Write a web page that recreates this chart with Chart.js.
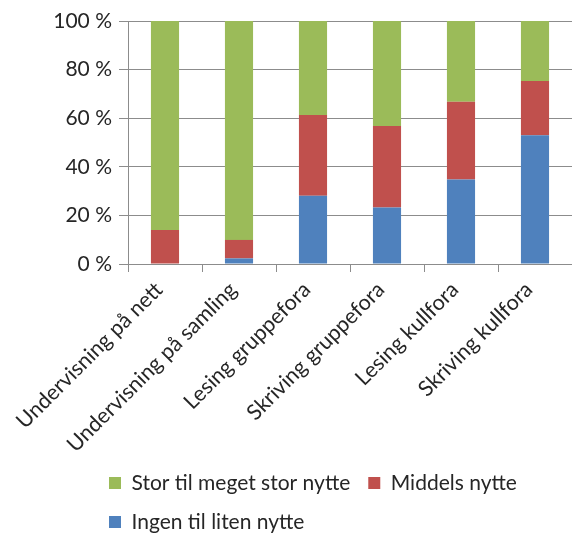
<!DOCTYPE html>
<html>
<head>
<meta charset="utf-8">
<script src="https://cdn.jsdelivr.net/npm/chart.js@4/dist/chart.umd.min.js"></script>
<style>
  html, body { margin: 0; padding: 0; background: #ffffff; }
  #wrap { width: 572px; height: 533px; }
</style>
</head>
<body>
<div id="wrap"><canvas id="c" width="572" height="533"></canvas></div>
<script>
// Kategorier (tilbud i studiet)
const categories = [
  'Undervisning på nett',
  'Undervisning på samling',
  'Lesing gruppefora',
  'Skriving gruppefora',
  'Lesing kullfora',
  'Skriving kullfora'
];

// Andel svar (%) per kategori
const ingenTilLiten = [0, 2.3, 28.1, 23.3, 34.8, 53.0];
const middels = [14.0, 7.6, 33.2, 33.5, 32.0, 22.3];
const storTilMegetStor = [86.0, 90.1, 38.7, 43.2, 33.2, 24.7];

const yTicks = [0, 20, 40, 60, 80, 100];

const axisGrey = '#8c8c8c';
const textColor = '#262626';
const fontFamily = 'Lato, "Open Sans", sans-serif';

// Legenden plasseres under aksetekstene, venstrejustert
const legendShift = {
  id: 'legendShift',
  afterLayout(chart) {
    const lg = chart.legend;
    if (!lg) return;
    const dx = 91 - lg.left;
    lg.left += dx;
    lg.right += dx;
    const dy = 454.5 - lg.top;
    lg.top += dy;
    lg.bottom += dy;
  }
};

new Chart(document.getElementById('c'), {
  type: 'bar',
  data: {
    labels: categories,
    datasets: [
      { label: 'Ingen til liten nytte', data: ingenTilLiten, backgroundColor: '#4F81BD', borderWidth: 0 },
      { label: 'Middels nytte', data: middels, backgroundColor: '#C0504D', borderWidth: 0 },
      { label: 'Stor til meget stor nytte', data: storTilMegetStor, backgroundColor: '#9BBB59', borderWidth: 0 }
    ]
  },
  options: {
    responsive: false,
    animation: false,
    devicePixelRatio: 1,
    // aksetekstene får gå inn under legenden, derfor negativ bunnmarg
    layout: { padding: { top: 21, left: 0, right: 0, bottom: -30 } },
    datasets: { bar: { categoryPercentage: 1.0, barPercentage: 0.38 } },
    plugins: {
      tooltip: { enabled: false },
      legend: {
        position: 'bottom',
        align: 'start',
        reverse: true,
        labels: {
          boxWidth: 12,
          boxHeight: 12,
          padding: 18,
          color: textColor,
          font: { family: fontFamily, size: 21 }
        }
      }
    },
    scales: {
      x: {
        stacked: true,
        afterFit(scale) { scale.height = 211; },
        grid: { drawOnChartArea: false, drawTicks: true, tickLength: 8, color: axisGrey },
        border: { color: axisGrey, width: 1 },
        ticks: {
          color: textColor,
          font: { family: fontFamily, size: 21.5 },
          minRotation: 45,
          maxRotation: 45,
          autoSkip: false,
          labelOffset: -6,
          padding: 5
        }
      },
      y: {
        stacked: true,
        min: 0,
        max: 100,
        afterBuildTicks(scale) {
          scale.ticks = yTicks.map(v => ({ value: v }));
        },
        afterFit(scale) { scale.width = 128; },
        grid: { color: axisGrey, tickLength: 9, drawTicks: true },
        border: { color: axisGrey, width: 1 },
        ticks: {
          color: textColor,
          font: { family: fontFamily, size: 21 },
          padding: 7,
          callback: v => v + ' %'
        }
      }
    }
  },
  plugins: [legendShift]
});
</script>
</body>
</html>
